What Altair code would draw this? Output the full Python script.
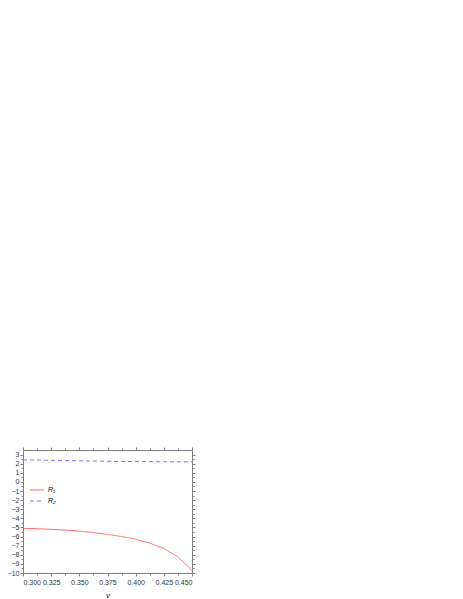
import altair as alt
import pandas as pd

v = [0.300, 0.3125, 0.325, 0.3375, 0.350, 0.3625, 0.375, 0.3875, 0.400, 0.4125, 0.425, 0.4375, 0.450]
R1 = [-5.10, -5.14, -5.21, -5.29, -5.40, -5.56, -5.77, -5.99, -6.28, -6.72, -7.31, -8.23, -9.71]
R2 = [2.42, 2.40, 2.37, 2.34, 2.31, 2.29, 2.27, 2.25, 2.23, 2.22, 2.21, 2.20, 2.19]
series = ["R\u2081", "R\u2082"]
x_ticks = [0.300, 0.325, 0.350, 0.375, 0.400, 0.425, 0.450]
x_minor = [0.3125, 0.3375, 0.3625, 0.3875, 0.4125, 0.4375]
y_ticks = list(range(-10, 4))
y_minor = [i + 0.5 for i in range(-10, 3)]

rows = []
for i, x in enumerate(v):
    rows.append({"v": x, "val": R1[i], "s": series[0]})
    rows.append({"v": x, "val": R2[i], "s": series[1]})
df = pd.DataFrame(rows)

FONT = "Liberation Sans"
AX = "#808080"
xs = alt.Scale(domain=[0.3, 0.45], nice=False, zero=False)
ys = alt.Scale(domain=[-10, 3.5], nice=False, zero=False)

lines = alt.Chart(df).mark_line(strokeWidth=1).encode(
    x=alt.X("v:Q", scale=xs, title="v",
            axis=alt.Axis(values=x_ticks, format=".3f", orient="bottom", grid=False,
                          domainColor=AX, tickColor=AX, tickSize=3, labelFontSize=7,
                          labelColor="#333333", titleFontSize=8, titleFontStyle="italic",
                          titleFontWeight="normal", titlePadding=6, labelFont=FONT, titleFont=FONT)),
    y=alt.Y("val:Q", scale=ys, title=None,
            axis=alt.Axis(values=y_ticks, orient="left", grid=False, domainColor=AX,
                          tickColor=AX, tickSize=3, labelFontSize=7, labelColor="#333333",
                          labelFont=FONT, labelPadding=1)),
    color=alt.Color("s:N", scale=alt.Scale(domain=series, range=["#ff6a6a", "#7070ff"]),
                    legend=alt.Legend(title=None, orient="none", legendX=6, legendY=32,
                                      symbolType="stroke", symbolSize=200, symbolStrokeWidth=1,
                                      labelFontSize=7, labelFontStyle="italic", labelFont=FONT,
                                      rowPadding=0, labelOffset=3, padding=0)),
    strokeDash=alt.StrokeDash("s:N", scale=alt.Scale(domain=series, range=[[1, 0], [4, 3]]),
                              legend=None),
)

def ghost(xaxis, yaxis):
    return alt.Chart(df).mark_point(opacity=0).encode(
        x=alt.X("v:Q", scale=xs, title=None, axis=xaxis),
        y=alt.Y("val:Q", scale=ys, title=None, axis=yaxis),
    )

top_right = ghost(
    alt.Axis(values=x_ticks, orient="top", labels=False, grid=False, domainColor=AX,
             tickColor=AX, tickSize=3),
    alt.Axis(values=y_ticks, orient="right", labels=False, grid=False, domainColor=AX,
             tickColor=AX, tickSize=3),
)
minor_bl = ghost(
    alt.Axis(values=x_minor, orient="bottom", labels=False, grid=False, domain=False,
             tickColor=AX, tickSize=2),
    alt.Axis(values=y_minor, orient="left", labels=False, grid=False, domain=False,
             tickColor=AX, tickSize=2),
)
minor_tr = ghost(
    alt.Axis(values=x_minor, orient="top", labels=False, grid=False, domain=False,
             tickColor=AX, tickSize=2),
    alt.Axis(values=y_minor, orient="right", labels=False, grid=False, domain=False,
             tickColor=AX, tickSize=2),
)

chart = alt.layer(lines, top_right, minor_bl, minor_tr).resolve_axis(
    x="independent", y="independent"
).properties(
    width=169, height=123,
    autosize=alt.AutoSizeParams(type="none"),
    padding={"left": 15, "top": 442, "right": 5, "bottom": 26},
).configure_view(stroke=None)

chart.save("out.html", embed_options={"renderer": "svg", "actions": False})
